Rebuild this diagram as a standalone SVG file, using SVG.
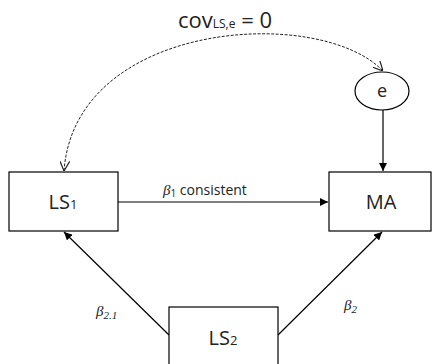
<svg xmlns="http://www.w3.org/2000/svg" width="432" height="364" viewBox="0 0 432 364">
<style>
.box{fill:#fff;stroke:#000;stroke-width:1.2}
.lbl{font-family:"Open Sans","Liberation Sans",sans-serif;fill:#222}
.big{font-size:20px}
.edge{stroke:#000;stroke-width:1.2;fill:none}
.dash{stroke:#222;stroke-width:1;fill:none;stroke-dasharray:3,1.5}
.beta{font-family:"Liberation Serif",serif;font-style:italic;font-size:15px;fill:#222}
</style>
<defs>
<marker id="solid" viewBox="0 0 10 10" refX="10" refY="5" markerWidth="8" markerHeight="8" markerUnits="userSpaceOnUse" orient="auto">
<path d="M0,0 L10,5 L0,10 z" fill="#000"/>
</marker>
<marker id="open" viewBox="0 0 10 10" refX="10" refY="5" markerWidth="10" markerHeight="10" markerUnits="userSpaceOnUse" orient="auto-start-reverse">
<path d="M0,0 L10,5 L0,10" fill="none" stroke="#222" stroke-width="1.2"/>
</marker>
</defs>
<g id="connectors">
<path class="dash" d="M64,171 C75,20 320,5 383,71" marker-start="url(#open)" marker-end="url(#open)"/>
<path class="edge" d="M118,202 L328,202" marker-end="url(#solid)"/>
<path class="edge" d="M383,110 L383,171" marker-end="url(#solid)"/>
<path class="edge" d="M169,335 L64,232" marker-end="url(#solid)"/>
<path class="edge" d="M278,335 L382,232" marker-end="url(#solid)"/>
</g>
<g id="LS1">
<rect class="box" x="9" y="172" width="109" height="59"/>
<text class="lbl big" x="63" y="209" text-anchor="middle">LS<tspan font-size="13">1</tspan></text>
</g>
<g id="MA">
<rect class="box" x="329" y="172" width="102" height="59"/>
<text class="lbl big" x="381" y="209" text-anchor="middle">MA</text>
</g>
<g id="LS2">
<rect class="box" x="169" y="307" width="109" height="60"/>
<text class="lbl big" x="223" y="345" text-anchor="middle">LS<tspan font-size="13">2</tspan></text>
</g>
<g id="e">
<ellipse class="box" cx="382" cy="91" rx="27" ry="19"/>
<text class="lbl" font-size="18" x="382" y="97" text-anchor="middle">e</text>
</g>
<g id="labels">
<text class="lbl" x="178" y="28" font-size="22">cov<tspan font-size="12">LS,e</tspan> = 0</text>
<text class="lbl" x="163" y="195" font-size="14"><tspan class="beta" font-size="16">β</tspan><tspan font-size="10" dy="2">1</tspan><tspan dy="-2"> consistent</tspan></text>
<text class="beta" x="96" y="316">β<tspan font-size="11" dy="3">2.1</tspan></text>
<text class="beta" x="344" y="310">β<tspan font-size="11" dy="3">2</tspan></text>
</g>
</svg>
